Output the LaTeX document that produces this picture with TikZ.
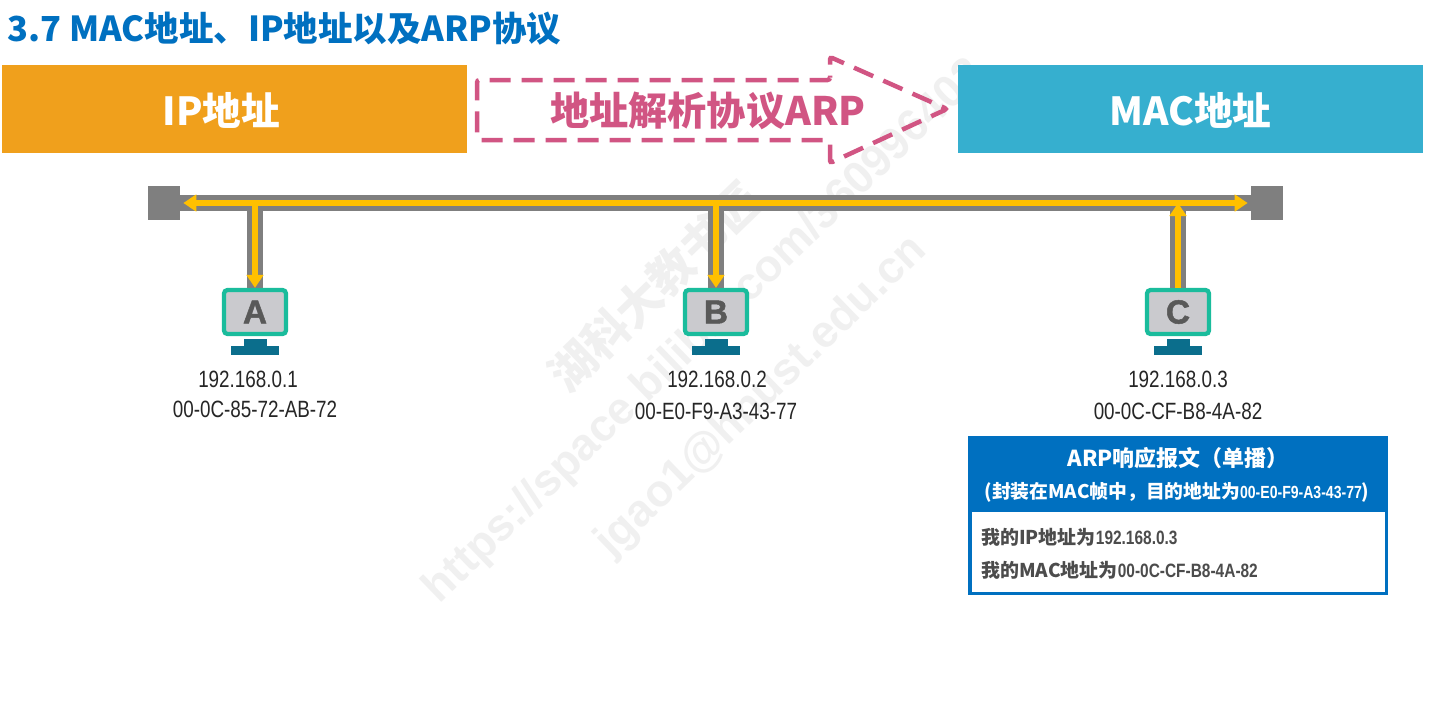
\documentclass[tikz,border=0pt]{standalone}
\usepackage{fontspec}
\setmainfont{Noto Sans CJK SC}
\newfontfamily\addrfont[FakeStretch=0.8]{Liberation Sans}
\newfontfamily\markfont{Liberation Sans}
\usetikzlibrary{arrows.meta,positioning,calc}
\definecolor{titleblue}{HTML}{0070C0}
\definecolor{iporange}{HTML}{F0A01C}
\definecolor{macblue}{HTML}{36AFCF}
\definecolor{arppink}{HTML}{D15583}
\definecolor{busgray}{HTML}{7F7F7F}
\definecolor{sigyellow}{HTML}{FFC000}
\definecolor{screenteal}{HTML}{1ABC9C}
\definecolor{standblue}{HTML}{0B6E8C}
\definecolor{screengray}{HTML}{CACACE}
\tikzset{
  headbox/.style={fill=#1,text=white,font=\fontsize{22}{26}\selectfont\bfseries,minimum width=9.3cm,minimum height=1.76cm,inner sep=0pt},
  term/.style={fill=busgray,minimum width=0.64cm,minimum height=0.68cm,inner sep=0pt},
  busline/.style={draw=busgray,line width=0.33cm},
  sigline/.style={draw=sigyellow,line width=0.12cm},
  sigarrow/.style={sigline,-{Triangle[length=0.26cm,width=0.33cm]}},
  screen/.style={draw=screenteal,fill=screengray,line width=0.085cm,rounded corners=0.07cm,text=black!65,font=\fontsize{19}{20}\markfont\bfseries\addfontfeature{FakeBold=1.5},minimum width=1.24cm,minimum height=0.88cm,inner sep=0pt},
  neck/.style={fill=standblue,minimum width=0.46cm,minimum height=0.14cm,inner sep=0pt,outer sep=0pt},
  foot/.style={fill=standblue,minimum width=0.96cm,minimum height=0.18cm,inner sep=0pt,outer sep=0pt},
  addr/.style={font=\fontsize{13.4}{16}\addrfont,text=black!85,inner sep=0pt},
  faintmark/.style={text=black!6,rotate=44,inner sep=0pt},
  bodyline/.style={anchor=west,text=black!70,font=\fontsize{10.8}{13}\selectfont\bfseries,inner sep=0pt}
}
\newcommand{\addrbold}[1]{{\fontsize{11}{13}\addrfont\bfseries #1}}
\newcommand{\headtext}[1]{\raisebox{-0.33cm}[0pt][0pt]{#1}}
\begin{document}
\begin{tikzpicture}[x=0.02cm,y=-0.02cm]
  \path[fill=white,use as bounding box] (0,0) rectangle (1441,721);
  % faint lettering behind the diagram
  \node[faintmark,font=\fontsize{26}{30}\selectfont\bfseries] (m1) at (655,287) {湖科大教书匠};
  \node[faintmark,font=\fontsize{25.5}{30}\markfont\bfseries] (m2) at (705,332) {https://space.bilibili.com/360996402};
  \node[faintmark,font=\fontsize{25.5}{30}\markfont\bfseries] (m3) at (762,397) {jgao1@hnust.edu.cn};
  \node[anchor=west,text=titleblue,font=\fontsize{19.6}{22}\selectfont\bfseries,inner sep=0pt] (title) at (7,29) {3.7 MAC地址、IP地址以及ARP协议};
  \node[headbox=iporange] (ip) at (234.5,109) {\headtext{IP地址}\kern0.52cm};
  \node[headbox=macblue] (mac) at (1190.5,109) {\headtext{MAC地址}};
  % ARP arrow
  \draw[arppink,dash pattern=on 0.42cm off 0.22cm,dash phase=0.38cm,line width=0.09cm,rounded corners=0.05cm] (830,80) -- (830,57) -- (947,109) -- (830,163) -- (830,140) -- (477,140) -- (477,80) -- cycle;
  \node[fill=white,fill opacity=0.7,text opacity=1,text=arppink,font=\fontsize{22.3}{26}\selectfont\bfseries,inner sep=0pt] (arp) at (708,111) {地址解析协议ARP};
  % bus
  \node[term] (termL) at (164,203) {};
  \node[term] (termR) at (1267,203) {};
  \node[screen] (pcA) at (255,312) {A};
  \node[screen] (pcB) at (716,312) {B};
  \node[screen] (pcC) at (1178,312) {C};
  \coordinate (junA) at (pcA |- termL);
  \coordinate (junB) at (pcB |- termL);
  \coordinate (junC) at (pcC |- termL);
  \draw[busline] (termL) -- (termR);
  \draw[busline] (junA) -- (pcA.north);
  \draw[busline] (junB) -- (pcB.north);
  \draw[busline] (junC) -- (pcC.north);
  \draw[sigarrow,shorten >=0.06cm] (junC) -- (termL.east);
  \draw[sigarrow,shorten >=0.06cm] (junC) -- (termR.west);
  \draw[sigarrow] (junA) -- (pcA.north);
  \draw[sigarrow] (junB) -- (pcB.north);
  \draw[sigarrow] (pcC.north) -- (junC);
  % hosts
  \foreach \h in {A,B,C}{
    \node[neck,below=0.06cm of pc\h] (neck\h) {};
    \node[foot,below=0cm of neck\h] (foot\h) {};
  }
  \node[addr] (ipA) at (248,379) {192.168.0.1};
  \node[addr] (hwA) at (255,409) {00-0C-85-72-AB-72};
  \node[addr] (ipB) at (717,379) {192.168.0.2};
  \node[addr] (hwB) at (716,411) {00-E0-F9-A3-43-77};
  \node[addr] (ipC) at (1178,379) {192.168.0.3};
  \node[addr] (hwC) at (1178,411) {00-0C-CF-B8-4A-82};
  % reply message
  \node[fill=titleblue,minimum width=8.4cm,minimum height=3.18cm,inner sep=0pt] (msgbox) at (1178,515.5) {};
  \node[fill=white,minimum width=8.26cm,minimum height=1.6cm,inner sep=0pt] (msgbody) at (1178.5,552) {};
  \node[text=white,font=\fontsize{12.5}{15}\selectfont\bfseries,inner sep=0pt] (msgA) at (1178,458) {ARP响应报文（单播）};
  \node[text=white,font=\fontsize{10.7}{13}\selectfont\bfseries,inner sep=0pt] (msgB) at (1177,492) {(封装在MAC帧中，目的地址为{\fontsize{10}{13}\addrfont\bfseries 00-E0-F9-A3-43-77})};
  \node[bodyline] (bodyA) at (981,537) {我的IP地址为\addrbold{192.168.0.3}};
  \node[bodyline] (bodyB) at (981,570) {我的MAC地址为\addrbold{00-0C-CF-B8-4A-82}};
\end{tikzpicture}
\end{document}
